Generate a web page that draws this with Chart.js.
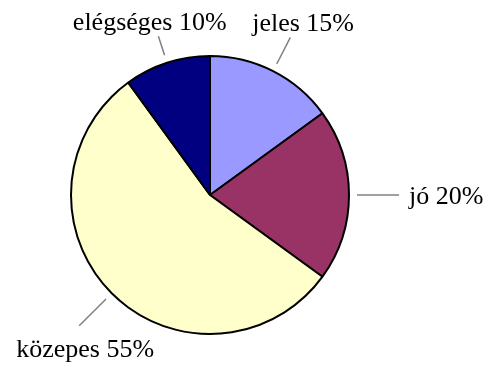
<!DOCTYPE html>
<html>
<head>
<meta charset="utf-8">
<script src="https://cdn.jsdelivr.net/npm/chart.js@4"></script>
<style>
  html, body { margin: 0; padding: 0; background: #fff; }
  #wrap { width: 495px; height: 369px; }
</style>
</head>
<body>
<div id="wrap"><canvas id="chart"></canvas></div>
<script>
const categories = ['jeles', 'jó', 'közepes', 'elégséges'];
const values = [15, 20, 55, 10];
const colors = ['#9999FF', '#993366', '#FFFFCC', '#000080'];
// how far the leader line reaches past the rim, per slice
const leaderLen = [38, 50, 46, 28];

// draws "name NN%" labels outside the pie with grey leader lines
const outsideLabels = {
  id: 'outsideLabels',
  afterDatasetsDraw(chart) {
    const ctx = chart.ctx;
    const meta = chart.getDatasetMeta(0);
    ctx.save();
    ctx.font = '26px "Liberation Serif", "Times New Roman", serif';
    ctx.fillStyle = '#000';
    ctx.strokeStyle = '#808080';
    ctx.lineWidth = 1.5;
    ctx.textBaseline = 'alphabetic';
    meta.data.forEach((arc, i) => {
      const p = arc.getProps(['x', 'y', 'startAngle', 'endAngle', 'outerRadius'], true);
      const mid = (p.startAngle + p.endAngle) / 2;
      const cos = Math.cos(mid), sin = Math.sin(mid);
      const r1 = p.outerRadius + 8;
      const r2 = p.outerRadius + leaderLen[i];
      const x1 = p.x + cos * r1, y1 = p.y + sin * r1;
      const x2 = p.x + cos * r2, y2 = p.y + sin * r2;
      ctx.beginPath();
      ctx.moveTo(x1, y1);
      ctx.lineTo(x2, y2);
      ctx.stroke();

      const text = categories[i] + ' ' + values[i] + '%';
      if (Math.abs(cos) > 0.9) {
        ctx.textAlign = cos > 0 ? 'left' : 'right';
        ctx.fillText(text, x2 + (cos > 0 ? 10 : -10), y2 + 9);
      } else if (sin < 0) {
        ctx.textAlign = 'center';
        ctx.fillText(text, x2 + cos * 28, y2 - 6);
      } else {
        ctx.textAlign = 'center';
        ctx.fillText(text, x2 + 6, y2 + 31);
      }
    });
    ctx.restore();
  }
};

new Chart(document.getElementById('chart'), {
  type: 'pie',
  data: {
    labels: categories,
    datasets: [{
      data: values,
      backgroundColor: colors,
      borderColor: '#000',
      borderWidth: 2
    }]
  },
  options: {
    responsive: true,
    maintainAspectRatio: false,
    animation: false,
    layout: { padding: { left: 70, right: 145, top: 55, bottom: 34 } },
    plugins: {
      legend: { display: false },
      tooltip: { enabled: false }
    }
  },
  plugins: [outsideLabels]
});
</script>
</body>
</html>
